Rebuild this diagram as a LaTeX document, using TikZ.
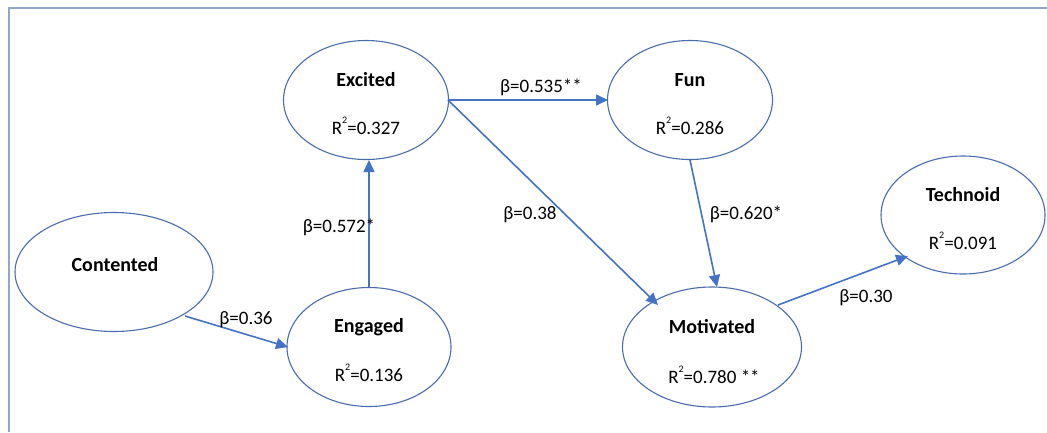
\documentclass[tikz,border=0pt]{standalone}
\usepackage{fontspec}
\setmainfont{Carlito}
\usetikzlibrary{shapes.geometric,arrows.meta}
\definecolor{ellcol}{HTML}{4A6BAD}
\definecolor{arrcol}{HTML}{4472C4}
\definecolor{framecol}{HTML}{93A6C9}
\tikzset{
  latent/.style={ellipse,draw=ellcol,line width=1.1pt,inner sep=0pt},
  nametxt/.style={font=\fontsize{20}{23}\selectfont\bfseries,inner sep=0pt},
  rtxt/.style={font=\fontsize{19}{22}\selectfont,inner sep=0pt},
  btxt/.style={font=\fontsize{19}{22}\selectfont,inner sep=0pt},
  path/.style={draw=arrcol,line width=1.6pt,-{Triangle[length=12pt,width=11pt]}},
}
\newcommand{\rsq}[1]{R\raisebox{1.15ex}{\fontsize{10}{11}\selectfont 2}=#1}
\begin{document}
\begin{tikzpicture}[x=1pt,y=-1pt]
\useasboundingbox (0,0) rectangle (1047,432);
\draw[framecol,line width=2pt] (8.5,432) -- (8.5,7.5) -- (1047,7.5);
% nodes
\node[latent,minimum width=165pt,minimum height=119pt] (exc) at (366,100) {};
\node[latent,minimum width=165pt,minimum height=119pt] (fun) at (690,100) {};
\node[latent,minimum width=198pt,minimum height=119pt] (con) at (114,272) {};
\node[latent,minimum width=164pt,minimum height=119pt] (eng) at (369,347) {};
\node[latent,minimum width=179pt,minimum height=120pt] (mot) at (712,347) {};
\node[latent,minimum width=164pt,minimum height=118pt] (tec) at (963,215) {};
% texts
\node[nametxt] (exc-n) at (366,80) {Excited};
\node[rtxt] (exc-r) at (366,126) {\rsq{0.327}};
\node[nametxt] (fun-n) at (690,80) {Fun};
\node[rtxt] (fun-r) at (690,126) {\rsq{0.286}};
\node[nametxt] (con-n) at (115,265) {Contented};
\node[nametxt] (eng-n) at (369,327) {Engaged};
\node[rtxt] (eng-r) at (369,373) {\rsq{0.136}};
\node[nametxt] (mot-n) at (712,327) {Motivated};
\node[rtxt] (mot-r) at (714,375) {\rsq{0.780 **}};
\node[nametxt] (tec-n) at (963,195) {Technoid};
\node[rtxt] (tec-r) at (963,241) {\rsq{0.091}};
% connectors
\coordinate (c1) at (185,316);
\coordinate (c2) at (288,347);
\draw[path] (c1) -- (c2);
\coordinate (e1) at (369,288);
\coordinate (e2) at (369,160);
\draw[path] (e1) -- (e2);
\coordinate (x1) at (448,100);
\coordinate (x2) at (608,100);
\draw[path] (x1) -- (x2);
\coordinate (x3) at (658,305);
\draw[path] (x1) -- (x3);
\coordinate (f1) at (690,160);
\coordinate (f2) at (717,287);
\draw[path] (f1) -- (f2);
\coordinate (m1) at (778,305);
\coordinate (m2) at (908,256);
\draw[path] (m1) -- (m2);
% labels
\node[btxt] (b1) at (246,320) {β=0.36};
\node[btxt] (b2) at (339,227) {β=0.572*};
\node[btxt] (b3) at (541,87) {β=0.535**};
\node[btxt] (b4) at (530,215) {β=0.38};
\node[btxt] (b5) at (746,214) {β=0.620*};
\node[btxt] (b6) at (866,298) {β=0.30};
\end{tikzpicture}
\end{document}
